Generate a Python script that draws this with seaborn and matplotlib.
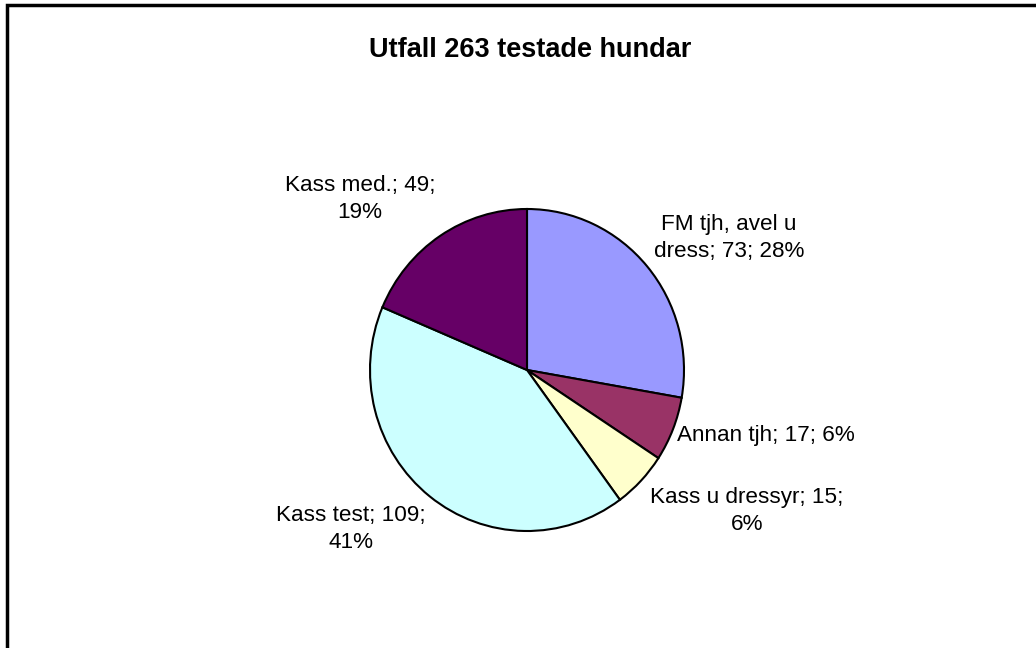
import matplotlib
matplotlib.use("Agg")
import matplotlib.pyplot as plt
import seaborn as sns
from matplotlib.patches import Rectangle

categories = ["FM tjh, avel u dress", "Annan tjh", "Kass u dressyr", "Kass test", "Kass med."]
values = [73, 17, 15, 109, 49]
label_texts = ["FM tjh, avel u\ndress; 73; 28%", "Annan tjh; 17; 6%",
               "Kass u dressyr; 15;\n6%", "Kass test; 109;\n41%", "Kass med.; 49;\n19%"]
colors = ["#9999FF", "#993366", "#FFFFCC", "#CCFFFF", "#660066"]
title = "Utfall 263 testade hundar"

sns.set_theme(style="white")
plt.rcParams['font.family'] = ['Liberation Sans', 'DejaVu Sans']

W, H = 1036, 648
fig = plt.figure(figsize=(W / 100, H / 100), dpi=100)
fig.patch.set_facecolor("white")

# border (left and top visible)
fig.patches.append(Rectangle((7 / W, -0.05), 1.2, (H - 5) / H + 0.05, transform=fig.transFigure,
                             fill=False, edgecolor="black", linewidth=2.5))

cx, cy, rx, ry = 527, 370, 157, 161
ax = fig.add_axes([(cx - rx) / W, (H - cy - ry) / H, 2 * rx / W, 2 * ry / H])
ax.pie(values, colors=colors, startangle=90, counterclock=False,
       wedgeprops=dict(edgecolor="black", linewidth=1.5))
ax.set_aspect("auto")
ax.set_xlim(-1, 1)
ax.set_ylim(-1, 1)
ax.axis("off")

label_px = [(729, 238), (766, 435), (747, 511), (351, 529), (360, 199)]
for txt, (px, py) in zip(label_texts, label_px):
    ax.text((px - cx) / rx, (cy - py) / ry, txt, ha="center", va="center",
            fontsize=16.2, color="black", linespacing=1.4, clip_on=False)

fig.text(530 / W, 1 - 50 / H, title, ha="center", va="center",
         fontsize=19.5, fontweight="bold", color="black")

fig.savefig("out.png", dpi=100)
